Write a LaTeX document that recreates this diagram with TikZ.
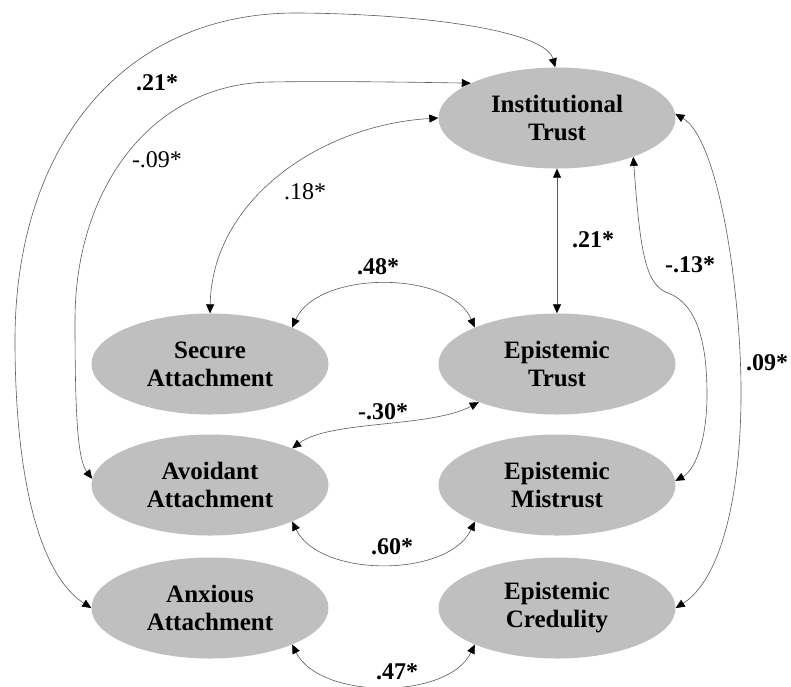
\documentclass[tikz,border=0pt]{standalone}
\usepackage{fontspec}
\setmainfont{Liberation Serif}
\usetikzlibrary{arrows.meta,shapes.geometric}
\definecolor{ellgray}{RGB}{191,191,191}
\definecolor{linegray}{RGB}{90,90,90}
\tikzset{
  latent/.style={ellipse, fill=ellgray, draw=none, minimum width=237pt, minimum height=101pt,
    inner sep=0pt, align=center, font=\fontsize{25}{28}\selectfont\bfseries},
  cov/.style={draw=linegray, line width=0.6pt, {Triangle[length=9pt,width=8pt,color=black]}-{Triangle[length=9pt,width=8pt,color=black]}},
  lbl/.style={font=\fontsize{24}{28}\selectfont\bfseries, inner sep=0pt},
  lblr/.style={font=\fontsize{24}{28}\selectfont, inner sep=0pt}
}
\begin{document}
\begin{tikzpicture}[x=1pt,y=-1pt]
\useasboundingbox (0,0) rectangle (791,686);
\node[latent] (IT) at (557,118) {Institutional\\Trust};
\node[latent] (SA) at (210,364) {Secure\\Attachment};
\node[latent] (ET) at (557,364) {Epistemic\\Trust};
\node[latent] (AV) at (210,485) {Avoidant\\Attachment};
\node[latent] (EM) at (557,485) {Epistemic\\Mistrust};
\node[latent] (AX) at (210,608) {Anxious\\Attachment};
\node[latent] (EC) at (557,608) {Epistemic\\Credulity};

% outer .21
\draw[cov] (IT.92) .. controls (545,30) and (420,14) .. (300,13)
  .. controls (120,11) and (15,150) .. (15,340)
  .. controls (15,480) and (40,575) .. (AX.180);
% -.09
\draw[cov] (IT.158) .. controls (400,82) and (330,81) .. (270,82)
  .. controls (150,84) and (75,190) .. (75,320)
  .. controls (75,420) and (78,460) .. (AV.177);
% .18
\draw[cov] (IT.180) .. controls (320,125) and (212,200) .. (SA.90);
% vertical .21
\draw[cov] (IT.south) -- (ET.north);
% -.13
\draw[cov] (IT.-27) .. controls (640,250) and (645,285) .. (668,293)
  .. controls (700,305) and (707,350) .. (707,395)
  .. controls (707,440) and (695,470) .. (EM.2);
% .09
\draw[cov] (IT.2) .. controls (720,140) and (742,300) .. (741,400)
  .. controls (740,500) and (720,580) .. (EC.0);
% .48
\draw[cov] (SA.24) .. controls (318,270) and (450,270) .. (ET.156);
% -.30
\draw[cov] (AV.24) .. controls (330,420) and (430,428) .. (ET.206);
% .60
\draw[cov] (AV.-24) .. controls (320,578) and (448,578) .. (EM.204);
% .47
\draw[cov] (AX.-24) .. controls (320,700) and (448,700) .. (EC.204);

\node[lbl] (l1) at (157,83) {.21*};
\node[lblr] (l2) at (157,160) {-.09*};
\node[lblr] (l3) at (305,192) {.18*};
\node[lbl] (l4) at (593,240) {.21*};
\node[lbl] (l5) at (690,265) {-.13*};
\node[lbl] (l6) at (767,363) {.09*};
\node[lbl] (l7) at (378,267) {.48*};
\node[lbl] (l8) at (383,412) {-.30*};
\node[lbl] (l9) at (392,547) {.60*};
\node[lbl] (l10) at (397,672) {.47*};
\end{tikzpicture}
\end{document}
